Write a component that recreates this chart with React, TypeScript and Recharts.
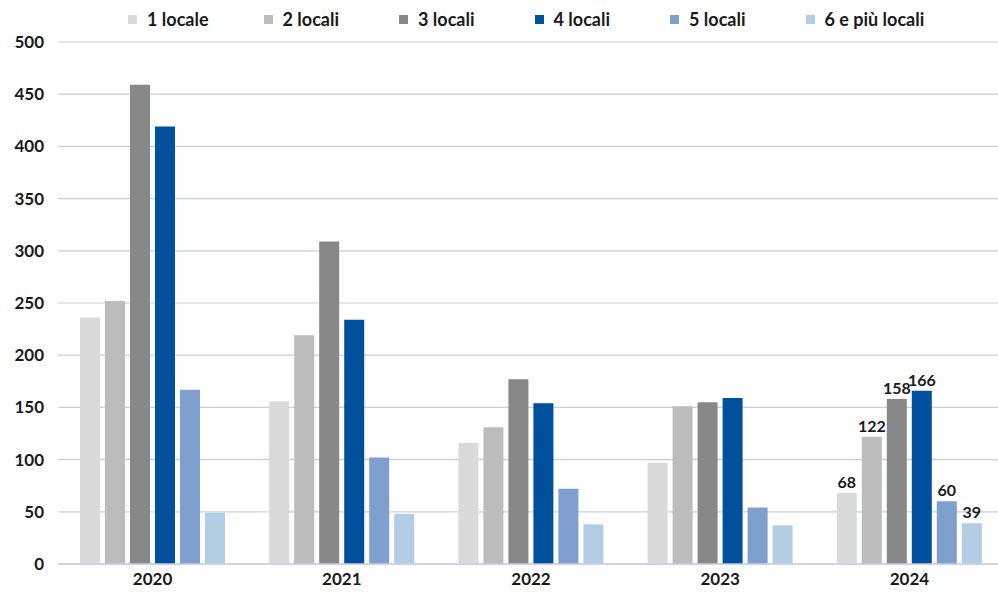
import { BarChart, Bar, XAxis, YAxis, CartesianGrid, LabelList } from "recharts";

const years = ["2020", "2021", "2022", "2023", "2024"];
const locale1 = [236, 156, 116, 97, 68];
const locali2 = [252, 219, 131, 151, 122];
const locali3 = [459, 309, 177, 155, 158];
const locali4 = [419, 234, 154, 159, 166];
const locali5 = [167, 102, 72, 54, 60];
const locali6 = [49, 48, 38, 37, 39];
const yTicks = [0, 50, 100, 150, 200, 250, 300, 350, 400, 450, 500];

const SERIES = [
  { key: "l1", name: "1 locale", color: "#d9dada", values: locale1 },
  { key: "l2", name: "2 locali", color: "#bbbcbb", values: locali2 },
  { key: "l3", name: "3 locali", color: "#878888", values: locali3 },
  { key: "l4", name: "4 locali", color: "#00509e", values: locali4 },
  { key: "l5", name: "5 locali", color: "#7f9fcf", values: locali5 },
  { key: "l6", name: "6 e più locali", color: "#b3cde4", values: locali6 },
];

const data = years.map((year, i) => {
  const row: Record<string, string | number> = { year };
  SERIES.forEach((s) => (row[s.key] = s.values[i]));
  return row;
});

const FONT = "Lato, sans-serif";

function LastLabel(props: any) {
  const { x, y, width, value, index } = props;
  if (index !== years.length - 1) return null;
  return (
    <text
      x={x + width / 2}
      y={y - 5}
      textAnchor="middle"
      fontFamily={FONT}
      fontWeight={700}
      fontSize={16}
      fill="#1a1a1a"
    >
      {value}
    </text>
  );
}

function LegendRow() {
  return (
    <div
      style={{
        position: "absolute",
        top: 8,
        left: 128,
        display: "flex",
        fontFamily: FONT,
        fontWeight: 700,
        fontSize: 18,
        color: "#1a1a1a",
      }}
    >
      {SERIES.map((s) => (
        <div key={s.key} style={{ width: 135.5, display: "flex", alignItems: "center" }}>
          <span style={{ width: 9, height: 9, background: s.color, marginRight: 10 }} />
          {s.name}
        </div>
      ))}
    </div>
  );
}

export default function App() {
  return (
    <div style={{ position: "absolute", left: 0, top: 0, width: 998, height: 593, background: "#fff", overflow: "hidden" }}>
      <LegendRow />
      <BarChart
        width={1004}
        height={593}
        data={data}
        margin={{ top: 42, right: 0, bottom: 0, left: 0 }}
        barCategoryGap={22}
        barGap={5}
      >
        <CartesianGrid vertical={false} stroke="#c8cde6" strokeWidth={1.2} />
        <XAxis
          dataKey="year"
          height={29}
          axisLine={{ stroke: "#c8cde6", strokeWidth: 1.5 }}
          tickLine={false}
          tick={{ fill: "#1a1a1a", fontFamily: FONT, fontWeight: 700, fontSize: 17 }}
          dy={1}
        />
        <YAxis
          width={58}
          domain={[0, 500]}
          ticks={yTicks}
          axisLine={false}
          tickLine={false}
          tick={{ fill: "#1a1a1a", fontFamily: FONT, fontWeight: 700, fontSize: 17 }}
          dx={-6}
        />
        {SERIES.map((s) => (
          <Bar key={s.key} dataKey={s.key} name={s.name} fill={s.color} isAnimationActive={false}>
            <LabelList dataKey={s.key} content={LastLabel} />
          </Bar>
        ))}
      </BarChart>
    </div>
  );
}
